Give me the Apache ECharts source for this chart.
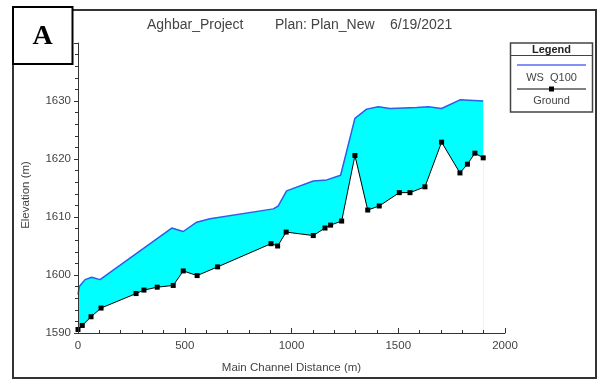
<!DOCTYPE html>
<html>
<head>
<meta charset="utf-8">
<script src="https://cdn.jsdelivr.net/npm/echarts@6/dist/echarts.min.js"></script>
<style>html,body{margin:0;padding:0;background:#fff}#c{width:600px;height:381px}</style>
</head>
<body>
<div id="c"></div>
<script>
// ---- data ----
const wsX = [0, 6, 33, 64, 103, 439, 493, 556, 618, 915, 938, 977, 1102, 1165, 1230, 1297, 1352, 1407, 1461, 1586, 1641, 1703, 1789, 1898];
const wsY = [1596.6, 1598.0, 1599.2, 1599.6, 1599.2, 1608.1, 1607.5, 1609.1, 1609.7, 1611.4, 1611.9, 1614.5, 1616.2, 1616.4, 1617.2, 1627.0, 1628.6, 1629.0, 1628.7, 1628.9, 1629.0, 1628.7, 1630.2, 1630.0];
const groundX = [0, 20, 61, 108, 272, 309, 371, 446, 493, 558, 654, 904, 935, 975, 1102, 1157, 1183, 1235, 1297, 1357, 1411, 1505, 1555, 1625, 1703, 1789, 1824, 1859, 1898];
const groundY = [1590.6, 1591.3, 1592.8, 1594.3, 1596.8, 1597.4, 1597.9, 1598.2, 1600.7, 1599.9, 1601.4, 1605.4, 1605.0, 1607.4, 1606.8, 1608.1, 1608.6, 1609.3, 1620.6, 1611.2, 1611.9, 1614.2, 1614.2, 1615.2, 1622.9, 1617.6, 1619.1, 1621.0, 1620.2];
const xTicks = {min: 0, max: 2000, interval: 500};
const yTicks = {min: 1590, max: 1640, interval: 10};
const titleParts = ['Aghbar_Project', 'Plan: Plan_New', '6/19/2021'];
const seriesNames = ['WS  Q100', 'Ground'];
const xName = 'Main Channel Distance (m)';
const yName = 'Elevation (m)';

const FONT = '"Liberation Sans", Arial, sans-serif';
const chart = echarts.init(document.getElementById('c'), null, {renderer: 'canvas'});
const pair = (xs, ys) => xs.map((x, i) => [x, ys[i]]);
const plain = v => String(v);

chart.setOption({
  animation: false,
  backgroundColor: '#fff',
  grid: {left: 78, right: 95, top: 43, bottom: 48},
  xAxis: {
    type: 'value', min: xTicks.min, max: xTicks.max, interval: xTicks.interval, z: 5,
    name: xName, nameLocation: 'middle', nameGap: 29,
    nameTextStyle: {fontFamily: FONT, fontSize: 11.5, color: '#444'},
    axisLine: {lineStyle: {color: '#333', width: 1}},
    axisTick: {inside: true, length: 5, lineStyle: {color: '#333'}},
    minorTick: {show: true, splitNumber: 5, length: 3, lineStyle: {color: '#333'}},
    axisLabel: {fontFamily: FONT, fontSize: 11.5, color: '#444', margin: 7, formatter: plain},
    splitLine: {show: false}
  },
  yAxis: {
    type: 'value', min: yTicks.min, max: yTicks.max, interval: yTicks.interval, z: 5,
    name: yName, nameLocation: 'middle', nameGap: 46,
    nameTextStyle: {fontFamily: FONT, fontSize: 11.5, color: '#444', padding: [0, 14, 0, 0]},
    axisLine: {show: true, lineStyle: {color: '#333', width: 1}},
    axisTick: {inside: false, length: 4, lineStyle: {color: '#333'}},
    minorTick: {show: true, splitNumber: 5, length: 3, lineStyle: {color: '#333'}},
    axisLabel: {fontFamily: FONT, fontSize: 11.5, color: '#444', margin: 7, showMaxLabel: false, formatter: plain},
    splitLine: {show: false}
  },
  series: [
    {
      name: seriesNames[0], type: 'line', data: pair(wsX, wsY),
      showSymbol: false, symbol: 'none',
      lineStyle: {color: '#2f5ce8', width: 1.5},
      areaStyle: {color: '#00ffff', opacity: 1, origin: 'start'},
      z: 2
    },
    {
      name: seriesNames[1], type: 'line', data: pair(groundX, groundY),
      symbol: 'rect', symbolSize: 5, showSymbol: true,
      itemStyle: {color: '#000'},
      lineStyle: {color: '#000', width: 1},
      areaStyle: {color: '#ffffff', opacity: 1, origin: 'start'},
      z: 3
    }
  ],
  graphic: [
    {type: 'rect', z: 50, shape: {x: 13, y: 10, width: 583, height: 368},
     style: {fill: null, stroke: '#333', lineWidth: 2}},
    {type: 'rect', z: 60, shape: {x: 13, y: 7, width: 59.5, height: 57},
     style: {fill: '#fff', stroke: '#000', lineWidth: 2}},
    {type: 'text', z: 61, x: 42.5, y: 37,
     style: {text: 'A', font: 'bold 28px "Liberation Serif", "Times New Roman", serif', fill: '#000', textAlign: 'center', textVerticalAlign: 'middle'}},
    {type: 'text', z: 61, x: 147, y: 25,
     style: {text: titleParts[0], font: '14px ' + FONT, fill: '#444', textAlign: 'left', textVerticalAlign: 'middle'}},
    {type: 'text', z: 61, x: 275, y: 25,
     style: {text: titleParts[1], font: '14px ' + FONT, fill: '#444', textAlign: 'left', textVerticalAlign: 'middle'}},
    {type: 'text', z: 61, x: 390, y: 25,
     style: {text: titleParts[2], font: '14px ' + FONT, fill: '#444', textAlign: 'left', textVerticalAlign: 'middle'}},
    {type: 'rect', z: 60, shape: {x: 510.5, y: 43, width: 82, height: 69},
     style: {fill: '#fff', stroke: '#444', lineWidth: 1.5}},
    {type: 'line', z: 61, shape: {x1: 510.5, y1: 55.5, x2: 592.5, y2: 55.5},
     style: {stroke: '#444', lineWidth: 1}},
    {type: 'text', z: 61, x: 551.5, y: 49.5,
     style: {text: 'Legend', font: 'bold 11px ' + FONT, fill: '#222', textAlign: 'center', textVerticalAlign: 'middle'}},
    {type: 'line', z: 61, shape: {x1: 517, y1: 65, x2: 586, y2: 65},
     style: {stroke: '#5a6cf5', lineWidth: 1.5}},
    {type: 'text', z: 61, x: 551.5, y: 78,
     style: {text: seriesNames[0], font: '11px ' + FONT, fill: '#444', textAlign: 'center', textVerticalAlign: 'middle'}},
    {type: 'line', z: 61, shape: {x1: 517, y1: 89, x2: 586, y2: 89},
     style: {stroke: '#000', lineWidth: 1}},
    {type: 'rect', z: 62, shape: {x: 549, y: 86.5, width: 5, height: 5},
     style: {fill: '#000'}},
    {type: 'text', z: 61, x: 551.5, y: 100.5,
     style: {text: seriesNames[1], font: '11px ' + FONT, fill: '#444', textAlign: 'center', textVerticalAlign: 'middle'}}
  ]
});
</script>
</body>
</html>
